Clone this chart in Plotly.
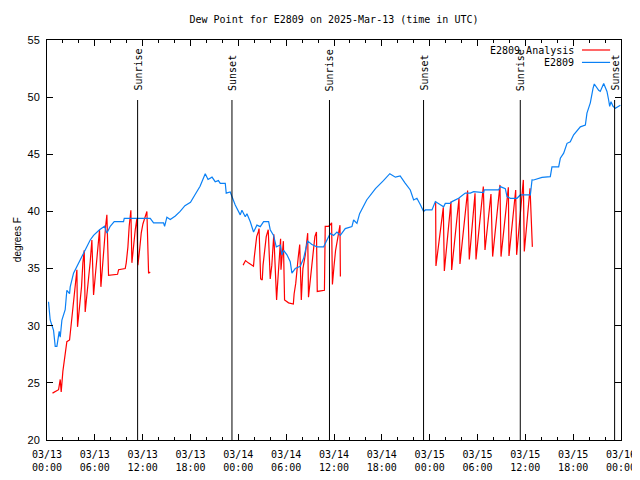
import pandas as pd
import plotly.graph_objects as go

START = pd.Timestamp("2025-03-13 00:00")

# ---- E2809 observations (hours since 03/13 00:00 UTC, degrees F) ----
obs_hours = [0.19, 0.40, 0.82, 1.03, 1.24, 1.53, 1.66, 1.87, 2.28, 2.49, 2.83, 2.91,
             3.33, 3.54, 3.96, 4.38, 4.79, 5.42, 5.84, 6.59, 7.22, 7.51, 7.93, 8.43,
             9.60, 9.69, 12.95, 13.37, 14.62, 14.75, 15.04, 15.46, 16.1, 16.7, 17.3,
             18.0, 18.6, 19.2, 19.85, 20.2, 20.7, 21.1, 21.5, 21.73, 22.36, 22.48,
             22.98, 23.19, 23.61, 24.24, 24.45, 24.87, 25.08, 25.50, 25.91, 26.33,
             26.75, 27.17, 27.80, 28.00, 28.42, 28.76, 29.26, 29.47, 29.68, 30.10,
             30.51, 30.72, 31.14, 31.77, 32.19, 32.69, 33.23, 33.86, 34.70, 34.90,
             35.53, 35.95, 36.37, 36.79, 37.41, 38.25, 38.46, 38.88, 39.21, 40.1,
             41.2, 42.2, 43.0, 43.7, 44.3, 44.9, 45.57, 45.99, 46.40, 46.82, 47.24,
             47.45, 48.29, 48.71, 49.75, 49.96, 50.59, 50.80, 51.63, 52.47, 53.10,
             53.52, 54.77, 54.85, 56.65, 56.86, 57.49, 57.70, 58.12, 58.95, 59.37,
             60.63, 60.84, 61.04, 62.09, 63.13, 63.34, 64.18, 64.39, 64.81, 65.23,
             65.64, 66.06, 66.90, 67.53, 67.73, 68.15, 68.49, 68.65, 69.20, 69.40,
             69.83, 70.24, 70.45, 70.58, 70.75, 71.00, 71.29, 71.70, 71.92]
obs_values = [32.1, 30.5, 29.6, 28.2, 28.2, 29.5, 29.0, 30.5, 31.4, 33.1, 32.8, 33.4,
              34.6, 34.9, 35.5, 36.0, 36.6, 37.5, 37.9, 38.4, 38.7, 38.1, 38.7, 39.1,
              39.1, 39.4, 39.4, 39.0, 39.0, 38.7, 39.5, 39.3, 39.6, 40.0, 40.5,
              40.8, 41.5, 42.2, 43.3, 42.8, 43.0, 42.6, 42.7, 42.46, 42.46, 41.6,
              41.7, 41.3, 40.56, 39.7, 40.1, 39.54, 39.8, 39.1, 38.2, 38.8,
              38.67, 39.1, 39.1, 38.4, 37.9, 36.9, 37.06, 36.2, 36.6, 36.2,
              35.6, 34.6, 35.0, 35.2, 35.9, 37.4, 37.1, 36.9, 36.9, 37.2,
              38.08, 37.9, 38.2, 37.9, 38.5, 38.67, 39.25, 38.96, 39.8, 41.0,
              42.0, 42.7, 43.3, 43.0, 43.1, 42.5, 41.88, 41.0, 41.15, 40.6, 40.0,
              40.13, 40.13, 40.86, 40.4, 40.7, 40.7, 40.86, 41.15, 41.6, 41.6,
              41.73, 41.65, 41.88, 41.88, 42.17, 42.0, 41.3, 41.15, 41.15, 41.44,
              41.44, 42.76, 42.75, 42.98, 43.04, 43.9, 43.9, 44.65, 45.1, 45.96,
              46.1, 46.7, 47.4, 47.56, 48.6, 49.5, 50.77, 51.15, 50.6, 50.5,
              51.2, 50.5, 49.75, 49.2, 49.6, 49.2, 49.02, 49.2, 49.3]

# ---- E2809 Analysis, three separate runs ----
ana1_hours = [0.69, 1.45, 1.66, 1.78, 1.99, 2.28, 2.49, 2.83, 3.00, 3.16, 3.33, 3.54,
              3.75, 3.83, 4.08, 4.33, 4.50, 4.67, 4.79, 5.00, 5.21, 5.42, 5.63, 5.84,
              6.05, 6.26, 6.47, 6.59, 6.76, 6.97, 7.18, 7.35, 7.51, 7.72, 8.85, 8.98,
              9.81, 9.94, 10.15, 10.31, 10.52, 10.65, 10.86, 11.07, 11.28, 11.40,
              11.61, 11.82, 12.03, 12.53, 12.74, 12.95]
ana1_values = [24.1, 24.4, 25.3, 24.2, 26.0, 27.7, 28.6, 28.75, 29.9, 31.4, 32.7, 34.0,
               34.9, 29.9, 31.7, 33.4, 35.5, 36.6, 31.2, 32.5, 34.0, 35.6, 37.5, 32.7,
               34.3, 35.75, 37.2, 38.4, 33.4, 35.0, 37.1, 38.7, 39.7, 34.4, 34.5, 34.9,
               35.0, 35.5, 36.9, 38.7, 40.1, 35.5, 37.1, 38.4, 39.4, 35.3,
               36.6, 38.1, 38.9, 40.0, 34.6, 34.7]

ana2_hours = [24.6, 24.9, 25.25, 25.7, 25.9, 26.0, 26.2, 26.3, 26.5, 26.6, 26.8, 27.0,
              27.1, 27.3, 27.5, 27.75, 28.0, 28.2, 28.3, 28.45, 28.6, 28.8, 28.9, 29.1,
              29.2, 29.3, 29.35, 29.5, 29.65, 29.8, 30.3, 30.9, 31.0, 31.2, 31.3, 31.5,
              31.7, 31.9, 32.0, 32.1, 32.4, 32.6, 32.7, 32.8, 33.0, 33.2, 33.4, 33.6,
              33.8, 33.9, 34.8, 34.9, 35.3, 35.5, 35.7, 35.8, 36.0, 36.2, 36.5, 36.6,
              36.75, 36.8]
ana2_values = [35.3, 35.7, 35.5, 35.3, 35.2, 36.0, 37.1, 37.8, 38.2, 38.5, 34.1, 34.0,
               35.3, 36.6, 37.8, 38.4, 34.1, 35.3, 36.6, 38.0, 35.5, 32.25, 33.4, 35.75,
               37.2, 37.6, 34.9, 36.0, 37.4, 32.25, 32.0, 31.9, 32.8, 33.7, 34.7, 35.9,
               37.1, 32.25, 33.7, 35.0, 36.2, 37.2, 38.1, 32.5, 33.7, 35.2, 36.6, 37.8,
               38.2, 33.0, 33.1, 38.7, 38.7, 38.8, 39.0, 33.6, 35.2, 36.6, 37.8, 38.4,
               38.8, 34.3]

ana3_hours = [48.75, 48.79, 49.71, 49.84, 50.67, 50.76, 51.68, 51.80, 52.76, 52.97,
              53.69, 53.81, 54.73, 54.94, 55.69, 55.90, 56.82, 56.95, 57.87, 57.95,
              58.79, 58.91, 59.75, 59.87, 60.59, 60.80, 60.88]
ana3_values = [40.86, 35.23, 40.36, 34.79, 40.86, 34.88, 41.15, 35.4, 41.82, 35.8,
               41.59, 35.8, 42.17, 36.63, 41.53, 36.05, 42.32, 36.05, 42.11, 36.1,
               41.88, 36.2, 42.76, 36.5, 42.03, 36.98, 36.9]

sunrise_times = ["2025-03-13 11:22", "2025-03-14 11:26", "2025-03-15 11:22"]
sunset_times = ["2025-03-13 23:12", "2025-03-14 23:14", "2025-03-15 23:12"]

tick_times = ["2025-03-13 00:00", "2025-03-13 06:00", "2025-03-13 12:00", "2025-03-13 18:00",
              "2025-03-14 00:00", "2025-03-14 06:00", "2025-03-14 12:00", "2025-03-14 18:00",
              "2025-03-15 00:00", "2025-03-15 06:00", "2025-03-15 12:00", "2025-03-15 18:00",
              "2025-03-16 00:00"]
tick_labels = ["03/13<br>00:00", "03/13<br>06:00", "03/13<br>12:00", "03/13<br>18:00",
               "03/14<br>00:00", "03/14<br>06:00", "03/14<br>12:00", "03/14<br>18:00",
               "03/15<br>00:00", "03/15<br>06:00", "03/15<br>12:00", "03/15<br>18:00",
               "03/16<br>00:00"]


def to_times(hours):
    return [START + pd.Timedelta(hours=h) for h in hours]


ana_x = to_times(ana1_hours) + [None] + to_times(ana2_hours) + [None] + to_times(ana3_hours)
ana_y = ana1_values + [None] + ana2_values + [None] + ana3_values

RED = "#ff0000"
BLUE = "#0a80f5"
MONO = "DejaVu Sans Mono"

# the page body adds an 8px offset; keep the page free of scrollbars
W, H = 632, 464

fig = go.Figure()
fig.add_trace(go.Scatter(x=ana_x, y=ana_y, mode="lines", name="E2809 Analysis",
                         line=dict(color=RED, width=1.2), connectgaps=False))
fig.add_trace(go.Scatter(x=to_times(obs_hours), y=obs_values, mode="lines", name="E2809",
                         line=dict(color=BLUE, width=1.2)))

shapes = []
annotations = []
for label, times in (("Sunrise", sunrise_times), ("Sunset", sunset_times)):
    for t in times:
        shapes.append(dict(type="line", xref="x", yref="paper", x0=t, x1=t, y0=0, y1=0.85,
                           line=dict(color="black", width=1)))
        annotations.append(dict(xref="x", yref="paper", x=t, y=0.87, text=label,
                                textangle=-90, showarrow=False, xanchor="center",
                                yanchor="bottom", font=dict(family=MONO, size=10, color="black"),
                                borderpad=0))

# legend drawn gnuplot-style (text then sample line)
legend_rows = [("E2809 Analysis", RED, 0.975), ("E2809", BLUE, 0.944)]
for text, color, yy in legend_rows:
    annotations.append(dict(xref="paper", yref="paper", x=0.92, y=yy, text=text,
                            showarrow=False, xanchor="right", yanchor="middle",
                            font=dict(family=MONO, size=10, color="black"), borderpad=0))
    shapes.append(dict(type="line", xref="paper", yref="paper", x0=0.932, x1=0.981,
                       y0=yy, y1=yy, line=dict(color=color, width=1.2)))

annotations.append(dict(xref="paper", yref="paper", x=-0.052, y=0.5, text="degrees F",
                        textangle=-90, showarrow=False, xanchor="center", yanchor="middle",
                        font=dict(family="Liberation Sans", size=10, color="black")))

fig.update_layout(
    width=W, height=H,
    margin=dict(l=39, r=19, t=32, b=32, autoexpand=False),
    paper_bgcolor="white", plot_bgcolor="white",
    showlegend=False,
    title=dict(text="Dew Point for E2809 on 2025-Mar-13 (time in UTC)", x=0.5, xref="paper",
               xanchor="center", y=1 - 11 / H, yref="container", yanchor="middle",
               font=dict(family=MONO, size=10, color="black")),
    shapes=shapes,
    annotations=annotations,
)

fig.update_xaxes(
    type="date", range=["2025-03-13 00:00", "2025-03-16 00:00"], automargin=False,
    tickmode="array", tickvals=tick_times, ticktext=tick_labels,
    ticks="inside", ticklen=6, tickcolor="black", tickwidth=1, ticklabelstandoff=5,
    ticklabeloverflow="allow",
    minor=dict(ticks="inside", ticklen=3, tickcolor="black", dtick=7200000,
               tick0="2025-03-13 00:00", showgrid=False),
    showline=True, linecolor="black", linewidth=1, mirror="ticks",
    showgrid=False, zeroline=False,
    tickfont=dict(family=MONO, size=10, color="black"),
)
fig.update_yaxes(
    range=[20, 55], tickmode="linear", tick0=20, dtick=5, automargin=False,
    ticks="inside", ticklen=6, tickcolor="black", tickwidth=1, ticklabelstandoff=4,
    showline=True, linecolor="black", linewidth=1, mirror="ticks",
    showgrid=False, zeroline=False,
    tickfont=dict(family="Liberation Sans", size=11, color="black"),
)

fig.write_html("out.html")
